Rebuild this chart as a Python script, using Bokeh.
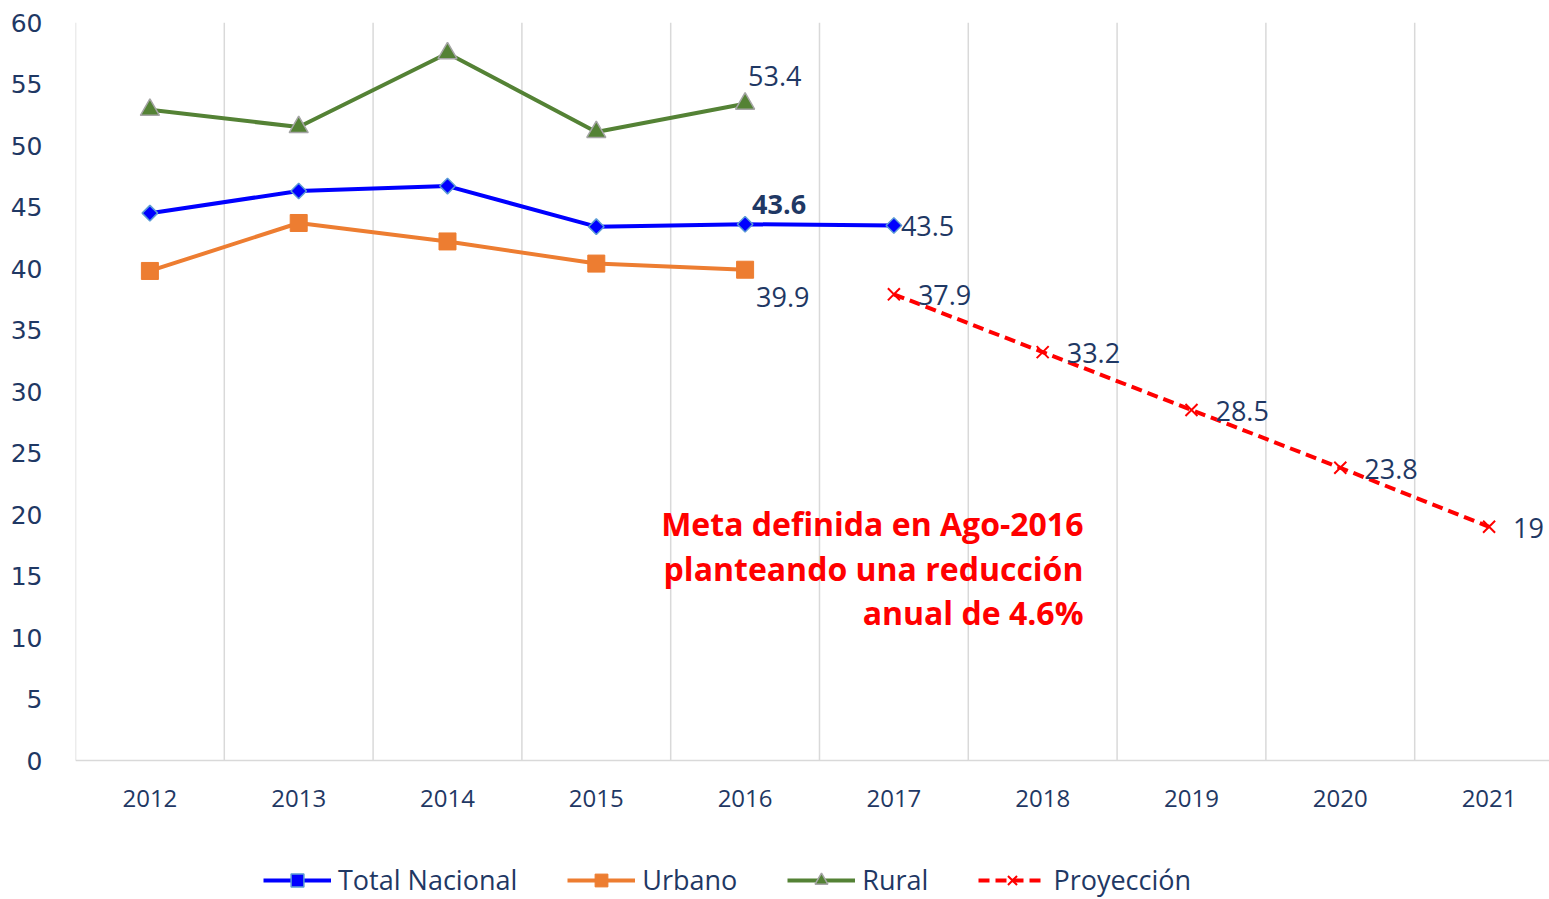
from bokeh.plotting import figure
from bokeh.models import (FixedTicker, Legend, LegendItem, ColumnDataSource,
                          Range1d, Label)
from bokeh.embed import file_html
from bokeh.resources import INLINE
from bokeh.core.properties import value

# ---------------- data ----------------
years = ["2012", "2013", "2014", "2015", "2016", "2017", "2018", "2019", "2020", "2021"]
total_years = ["2012", "2013", "2014", "2015", "2016", "2017"]
total_vals = [44.5, 46.3, 46.7, 43.4, 43.6, 43.5]
urbano_years = ["2012", "2013", "2014", "2015", "2016"]
urbano_vals = [39.8, 43.7, 42.2, 40.4, 39.9]
rural_years = ["2012", "2013", "2014", "2015", "2016"]
rural_vals = [52.9, 51.5, 57.5, 51.1, 53.4]
proy_years = ["2017", "2018", "2019", "2020", "2021"]
proy_vals = [37.9, 33.2, 28.5, 23.8, 19]
y_ticks = [0, 5, 10, 15, 20, 25, 30, 35, 40, 45, 50, 55, 60]
note_lines = ["Meta definida en Ago-2016", "planteando una reducción", "anual de 4.6%"]

NAVY = "#1F3864"
FONT = "Open Sans"
Y_MAX = 60
# frame extends below the value axis to leave room for category labels & legend
Y_MIN = -Y_MAX * 139 / 738
X_END = len(years) - 0.094   # the last category is slightly cropped at the right edge


def xpos(yrs):
    return [years.index(y) + 0.5 for y in yrs]


p = figure(width=1549, height=899, output_backend="svg", toolbar_location=None,
           x_range=Range1d(0, X_END), y_range=Range1d(Y_MIN, Y_MAX),
           min_border_left=75, min_border_right=0, min_border_top=22,
           min_border_bottom=0)
p.outline_line_color = None
p.background_fill_color = "white"
p.border_fill_color = "white"
p.xaxis.visible = False

# y axis
p.yaxis.ticker = FixedTicker(ticks=y_ticks)
p.yaxis.axis_line_color = None
p.yaxis.major_tick_line_color = None
p.yaxis.minor_tick_line_color = None
p.yaxis.major_label_text_font = "DejaVu Sans"
p.yaxis.major_label_text_font_size = "25px"
p.yaxis.major_label_text_color = NAVY
p.yaxis.major_label_standoff = 27

# horizontal base line at 0
p.ygrid.ticker = FixedTicker(ticks=[0])
p.ygrid.grid_line_color = "#D9D9D9"
p.ygrid.grid_line_width = 1.5
p.xgrid.grid_line_color = None

# vertical category separators (from 0 to top)
bounds = list(range(len(years) + 1))
p.segment(x0=bounds, y0=[0] * len(bounds), x1=bounds, y1=[Y_MAX] * len(bounds),
          line_color="#D9D9D9", line_width=1.5)

# category labels
cat_src = ColumnDataSource(dict(x=xpos(years), y=[0] * len(years), t=years))
p.text("x", "y", text="t", source=cat_src, y_offset=38,
       text_font=value(FONT), text_font_size="24px", text_color=NAVY,
       text_align="center", text_baseline="middle")

# series
src_t = ColumnDataSource(dict(x=xpos(total_years), y=total_vals))
src_u = ColumnDataSource(dict(x=xpos(urbano_years), y=urbano_vals))
src_r = ColumnDataSource(dict(x=xpos(rural_years), y=rural_vals))
src_p = ColumnDataSource(dict(x=xpos(proy_years), y=proy_vals))

lt = p.line("x", "y", source=src_t, line_color="#0000FF", line_width=4)
mt = p.scatter("x", "y", source=src_t, marker="square", angle=0.785398, size=11,
               fill_color="#0000FF", line_color="#5B9BD5", line_width=1.5)

lu = p.line("x", "y", source=src_u, line_color="#ED7D31", line_width=4)
mu = p.scatter("x", "y", source=src_u, marker="square", size=17,
               fill_color="#ED7D31", line_color="#ED7D31")

lr = p.line("x", "y", source=src_r, line_color="#548235", line_width=4)
mr = p.scatter("x", "y", source=src_r, marker="triangle", size=19,
               fill_color="#548235", line_color="#A5A5A5", line_width=1.5)

lp = p.line("x", "y", source=src_p, line_color="#FF0000", line_width=4,
            line_dash="11 6")
mp = p.scatter("x", "y", source=src_p, marker="x", size=17,
               line_color="#FF0000", line_width=2)

# data labels
LBL = dict(text_font=value(FONT), text_font_size="27px", text_color=NAVY,
           text_baseline="middle", text_align="left")

lab_r = ColumnDataSource(dict(x=xpos(rural_years[-1:]), y=rural_vals[-1:],
                              t=[str(v) for v in rural_vals[-1:]]))
p.text("x", "y", text="t", source=lab_r, x_offset=3, y_offset=-28, **LBL)

lab_t16 = ColumnDataSource(dict(x=xpos(total_years[4:5]), y=total_vals[4:5],
                                t=[str(v) for v in total_vals[4:5]]))
p.text("x", "y", text="t", source=lab_t16, x_offset=7, y_offset=-20,
       text_font_style="bold", **LBL)

lab_t17 = ColumnDataSource(dict(x=xpos(total_years[5:]), y=total_vals[5:],
                                t=[str(v) for v in total_vals[5:]]))
p.text("x", "y", text="t", source=lab_t17, x_offset=7, y_offset=1, **LBL)

lab_u = ColumnDataSource(dict(x=xpos(urbano_years[-1:]), y=urbano_vals[-1:],
                              t=[str(v) for v in urbano_vals[-1:]]))
p.text("x", "y", text="t", source=lab_u, x_offset=11, y_offset=27, **LBL)

lab_p = ColumnDataSource(dict(x=xpos(proy_years), y=proy_vals,
                              t=[("%g" % v) for v in proy_vals]))
p.text("x", "y", text="t", source=lab_p, x_offset=24, y_offset=1, **LBL)

# annotation
note_y = [19.3, 15.65, 12.0]
for line, yy in zip(note_lines, note_y):
    p.add_layout(Label(x=6.774, y=yy, text=line, text_align="right",
                       text_baseline="middle", text_color="#FF0000",
                       text_font=FONT, text_font_style="bold",
                       text_font_size="32px"))

legend = Legend(items=[
    LegendItem(label="Total Nacional", renderers=[lt, mt]),
    LegendItem(label="Urbano", renderers=[lu, mu]),
    LegendItem(label="Rural", renderers=[lr, mr]),
    LegendItem(label="Proyección", renderers=[lp, mp]),
], orientation="horizontal", location=(188, 1), spacing=50, glyph_width=68,
    glyph_height=32, label_standoff=7, label_text_font=FONT,
    label_text_font_size="27px", label_text_color=NAVY,
    border_line_color=None, background_fill_alpha=0, padding=1, margin=0)
p.add_layout(legend, "center")

open("out.html", "w").write(file_html(p, INLINE))
